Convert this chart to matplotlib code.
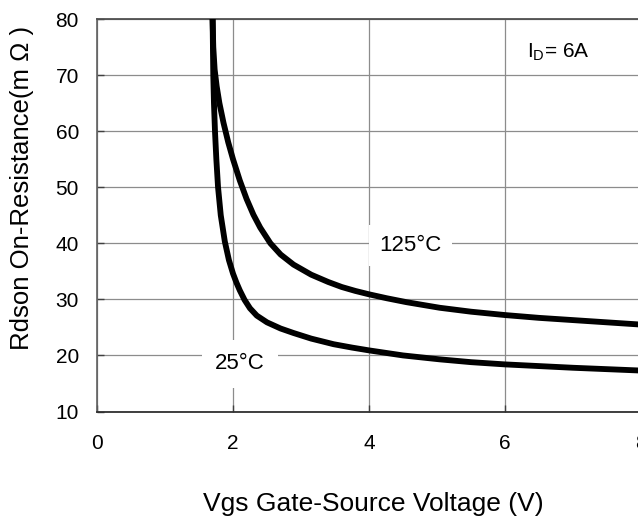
import matplotlib
matplotlib.use("Agg")
import matplotlib.pyplot as plt

plt.rcParams['font.family'] = ['Liberation Sans', 'DejaVu Sans']

# Rdson vs Vgs, ID = 6A
vgs_125 = [1.70, 1.71, 1.73, 1.76, 1.80, 1.86, 1.93, 2.00, 2.10, 2.20, 2.30, 2.40, 2.55, 2.70,
           2.89, 3.15, 3.40, 3.60, 3.80, 4.00, 4.26, 4.55, 5.04, 5.50, 6.00, 6.50, 7.00,
           7.50, 8.00, 9.00, 10.0]
rds_125 = [80.0, 75.0, 71.0, 68.0, 65.0, 61.5, 58.0, 55.0, 51.2, 47.9, 45.1, 42.8, 40.0, 38.0,
           36.2, 34.4, 33.1, 32.2, 31.5, 30.9, 30.2, 29.5, 28.5, 27.8, 27.2, 26.7, 26.3,
           25.9, 25.5, 25.0, 24.6]

vgs_25 = [1.70, 1.71, 1.72, 1.735, 1.755, 1.78, 1.82, 1.88, 1.94, 2.00, 2.05, 2.10, 2.17, 2.25,
          2.35, 2.50, 2.70, 2.89, 3.15, 3.48, 3.75, 4.00, 4.50, 5.04, 5.50, 6.00, 7.00, 8.00,
          9.00, 10.0]
rds_25 = [80.0, 70.0, 65.0, 60.0, 55.0, 50.0, 45.0, 40.3, 37.0, 34.6, 33.0, 31.6, 29.9, 28.4,
          27.1, 25.9, 24.8, 24.0, 23.0, 22.0, 21.4, 20.9, 20.0, 19.3, 18.8, 18.4, 17.8, 17.3,
          17.0, 16.8]

xticks = [0, 2, 4, 6, 8, 10]
yticks = [10, 20, 30, 40, 50, 60, 70, 80]

fig = plt.figure(figsize=(6.38, 5.24), dpi=100)
# axes runs past the right edge, the original picture is cut off there
ax = fig.add_axes([97/638, 1 - 411.5/524, 680/638, 392.5/524])

ax.plot(vgs_125, rds_125, color='black', lw=4.2, solid_capstyle='butt', solid_joinstyle='round', zorder=3)
ax.plot(vgs_25, rds_25, color='black', lw=4.2, solid_capstyle='butt', solid_joinstyle='round', zorder=3)

ax.set_xlim(0, 10)
ax.set_ylim(10, 80)
ax.set_xticks(xticks)
ax.set_yticks(yticks)
ax.grid(True, color='#8c8c8c', lw=0.9)
ax.set_axisbelow(True)

ax.tick_params(axis='both', direction='in', length=5, width=1, color='#404040', labelsize=15)
ax.tick_params(axis='x', pad=16)
ax.tick_params(axis='y', pad=13)

ax.spines['left'].set_color('#606060')
ax.spines['left'].set_linewidth(1.2)
ax.spines['bottom'].set_color('#303030')
ax.spines['bottom'].set_linewidth(1.3)
ax.spines['top'].set_color('#505050')
ax.spines['top'].set_linewidth(1.3)
ax.spines['right'].set_visible(False)

box = dict(boxstyle='square', facecolor='white', edgecolor='none')
ax.text(4.61, 39.6, '125°C', fontsize=16, ha='center', va='center',
        bbox=dict(box, pad=0.45), zorder=2)
ax.text(2.10, 18.5, '25°C', fontsize=16, ha='center', va='center',
        bbox=dict(box, pad=0.6), zorder=2)
ax.text(6.79, 74.1, r'$\mathregular{I_D}$= 6A', fontsize=15, ha='center', va='center',
        bbox=dict(box, pad=0.55), zorder=2)

fig.text(373/638, 1 - 504/524, 'Vgs Gate-Source Voltage (V)', fontsize=19,
         ha='center', va='center')
fig.text(22/638, 1 - 187.5/524, 'Rdson On-Resistance(m Ω )', fontsize=18.5,
         rotation=90, ha='center', va='center')

fig.savefig('out.png', dpi=100)
